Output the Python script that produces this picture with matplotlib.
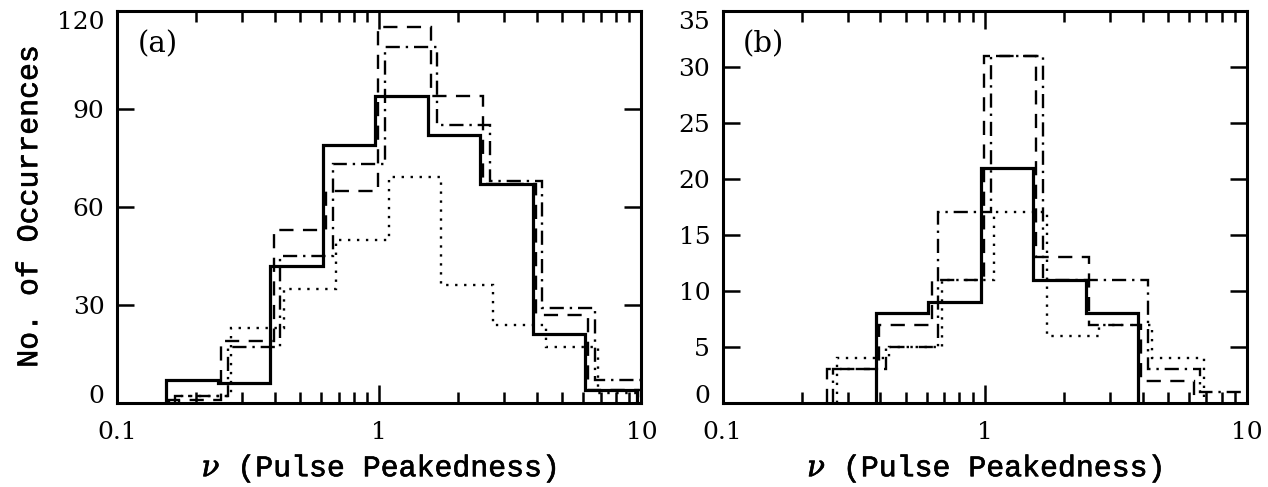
import matplotlib.pyplot as plt
import matplotlib.patheffects as pe
import numpy as np
from matplotlib.ticker import NullFormatter

plt.rcParams['font.family'] = 'DejaVu Serif'
plt.rcParams['mathtext.fontset'] = 'dejavuserif'

# histogram bins are 0.2 dex wide in log10(nu)
log_edges = np.arange(-0.8, 1.01, 0.2)

# small sideways shift (dex) per curve so that equal bins don't hide each other
shift_solid = -0.015
shift_dashed = -0.003
shift_dashdot = 0.022
shift_dotted = 0.036

# (a) counts per bin
solid_a = [7, 6, 42, 79, 94, 82, 67, 21, 4]
dashed_a = [1, 19, 53, 65, 115, 94, 67, 27, 4]
dashdot_a = [2, 17, 45, 73, 109, 85, 68, 29, 7]
dotted_a = [2, 23, 35, 50, 69, 36, 24, 17, 3]

# (b) counts per bin
solid_b = [0, 0, 8, 9, 21, 11, 8, 0, 0]
dashed_b = [0, 3, 7, 11, 31, 13, 7, 2, 0]
dashdot_b = [0, 3, 5, 17, 31, 11, 11, 3, 1]
dotted_b = [0, 4, 5, 11, 17, 6, 7, 4, 0]

yticks_a = [0, 30, 60, 90, 120]
yticks_b = [0, 5, 10, 15, 20, 25, 30, 35]

line_styles = [
    (shift_solid, '-', 2.3),
    (shift_dashed, (0, (6, 4)), 1.7),
    (shift_dashdot, (0, (6, 2.5, 1, 2.5)), 1.7),
    (shift_dotted, (0, (1, 2.8)), 1.7),
]

# typewriter face, thickened a little with a thin outline
label_font = dict(family='Liberation Mono', size=21.5)
label_fx = [pe.withStroke(linewidth=0.45, foreground='black')]


def trim_empty(vals, edges):
    # drop empty bins at both ends so nothing runs along the x axis
    v = np.asarray(vals)
    nz = np.nonzero(v)[0]
    lo, hi = nz[0], nz[-1] + 1
    return v[lo:hi], edges[lo:hi + 1]


fig, axes = plt.subplots(1, 2, figsize=(12.68, 4.87), dpi=100)
fig.subplots_adjust(left=0.0923, right=0.9834, bottom=0.1725, top=0.978, wspace=0.155)

panels = [
    (axes[0], [solid_a, dashed_a, dashdot_a, dotted_a], yticks_a, '(a)'),
    (axes[1], [solid_b, dashed_b, dashdot_b, dotted_b], yticks_b, '(b)'),
]

for ax, series, yticks, tag in panels:
    for vals, (shift, ls, lw) in zip(series, line_styles):
        v, edges = trim_empty(vals, 10 ** (log_edges + shift))
        ax.stairs(v, edges, baseline=0, color='black', linestyle=ls, linewidth=lw)

    ax.set_xscale('log')
    ax.set_xlim(0.1, 10)
    ax.set_ylim(yticks[0], yticks[-1])
    ax.set_xticks([0.1, 1, 10], ['0.1', '1', '10'])
    ax.xaxis.set_minor_formatter(NullFormatter())
    ax.set_yticks(yticks)

    ax.tick_params(which='both', direction='in', top=True, right=True, width=1.8)
    ax.tick_params(axis='x', which='major', length=13, pad=13, labelsize=18)
    ax.tick_params(axis='x', which='minor', length=8)
    ax.tick_params(axis='y', which='major', length=12, pad=9, labelsize=18)
    for sp in ax.spines.values():
        sp.set_linewidth(2.2)

    # keep the end labels inside the frame
    yt = ax.yaxis.get_major_ticks()
    yt[0].label1.set_verticalalignment('baseline')
    yt[-1].label1.set_verticalalignment('top')

    ax.text(0.078, 0.915, tag, transform=ax.transAxes, fontsize=21, ha='center', va='center')
    xl = ax.set_xlabel(r'$\nu$ (Pulse Peakedness)', fontdict=label_font, labelpad=6)
    xl.set_path_effects(label_fx)

yl = axes[0].set_ylabel('No. of Occurrences', fontdict=label_font, labelpad=10)
yl.set_path_effects(label_fx)

plt.savefig('out.png')
